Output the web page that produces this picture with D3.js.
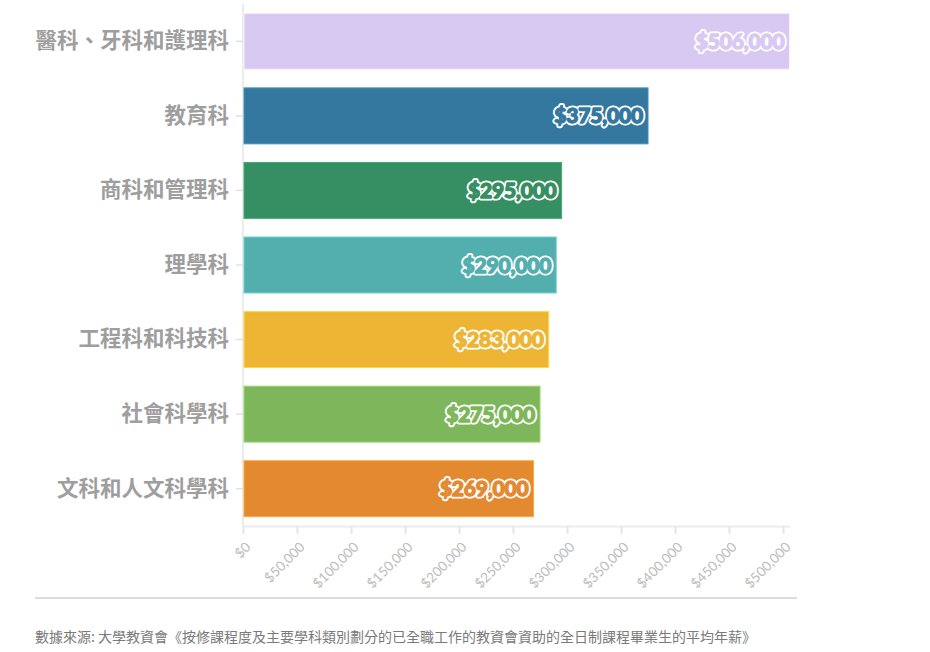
<!DOCTYPE html>
<html><head><meta charset="utf-8">
<script src="https://cdn.jsdelivr.net/npm/d3@7"></script>
<style>
body{margin:0;background:#fff;}
svg{display:block;}
</style></head>
<body>
<svg id="chart" width="930" height="652"></svg>
<script>
const categories = ["醫科、牙科和護理科","教育科","商科和管理科","理學科","工程科和科技科","社會科學科","文科和人文科學科"];
const salaries = [506000,375000,295000,290000,283000,275000,269000];
const barColors = ["#d8c9f3","#35789f","#368e63","#53afae","#eeb535","#7eb65b","#e38a31"];
const xTickValues = [0,50000,100000,150000,200000,250000,300000,350000,400000,450000,500000];
const sourceText = "數據來源: 大學教資會《按修課程度及主要學科類別劃分的已全職工作的教資會資助的全日制課程畢業生的平均年薪》";

(function(){
const data = categories.map((c,i)=>({cat:c, v:salaries[i], color:barColors[i]}));
const svg = d3.select("#chart");
const mLeft = 243, mRight = 789.5, mTop = 4, mBottom = 526;

const x = d3.scaleLinear().domain([0, d3.max(salaries)]).range([mLeft, mRight]);
const y = d3.scaleBand().domain(categories).range([mTop, mBottom]).paddingInner(0.25).paddingOuter(0.125);

const fmt = d => "$" + d3.format(",")(d);

// y axis
const yAxis = svg.append("g").attr("transform",`translate(${mLeft},0)`)
  .call(d3.axisLeft(y).tickSize(7).tickPadding(7));
yAxis.select(".domain").attr("stroke","#ececec").attr("stroke-width",2).attr("d",`M0,${mTop}V${mBottom}`);
yAxis.selectAll(".tick line").attr("stroke","#e0e0e0").attr("stroke-width",1.5);
yAxis.selectAll(".tick text").attr("fill","#9e9e9e")
  .style("font-family","'Noto Sans CJK TC','Noto Sans',sans-serif")
  .style("font-size","21.5px").style("font-weight","bold");

// x axis
const xAxis = svg.append("g").attr("transform",`translate(0,${mBottom})`)
  .call(d3.axisBottom(x).tickValues(xTickValues).tickFormat(fmt).tickSize(8).tickSizeOuter(0));
xAxis.select(".domain").attr("stroke","#ececec").attr("stroke-width",2);
xAxis.selectAll(".tick line").attr("stroke","#e6e6e6").attr("stroke-width",2);
xAxis.selectAll(".tick text").attr("fill","#bcbcbc")
  .style("font-family","Lato, sans-serif").style("font-size","13.5px")
  .attr("text-anchor","end").attr("y",0).attr("dy","0")
  .attr("transform","translate(8,22) rotate(-45)");

// bars
svg.append("g").selectAll("rect").data(data).join("rect")
  .attr("x", x(0)+1).attr("y", d=>y(d.cat))
  .attr("width", d=>x(d.v)-x(0)-1).attr("height", y.bandwidth())
  .attr("fill", d=>d.color)
  .attr("stroke", d=>d3.color(d.color).brighter(0.5)).attr("stroke-width",1);

// value labels: white halo underneath, then heavy coloured text on top
const labelLayers = [
  {stroke: () => "#fff", fill: () => "#fff", sw: 5},
  {stroke: d => d.color, fill: d => d.color, sw: 1.3}
];
labelLayers.forEach(L => {
  svg.append("g").selectAll("text").data(data).join("text")
    .attr("x", d=>x(d.v)-5).attr("y", d=>y(d.cat)+y.bandwidth()/2)
    .attr("dy","0.36em").attr("text-anchor","end")
    .attr("fill", L.fill).attr("stroke", L.stroke).attr("stroke-width", L.sw)
    .attr("stroke-linejoin","round")
    .style("font-family","Lato, sans-serif").style("font-size","21px").style("font-weight","900")
    .style("letter-spacing","-0.2px")
    .text(d=>fmt(d.v));
});

// footer
svg.append("line").attr("x1",35).attr("x2",797).attr("y1",598).attr("y2",598)
  .attr("stroke","#dcdcdc").attr("stroke-width",2);
svg.append("text").attr("x",35).attr("y",642).attr("fill","#7a7a7a")
  .style("font-family","'Noto Sans CJK TC',sans-serif").style("font-size","14px")
  .text(sourceText);
})();
</script>
</body></html>
